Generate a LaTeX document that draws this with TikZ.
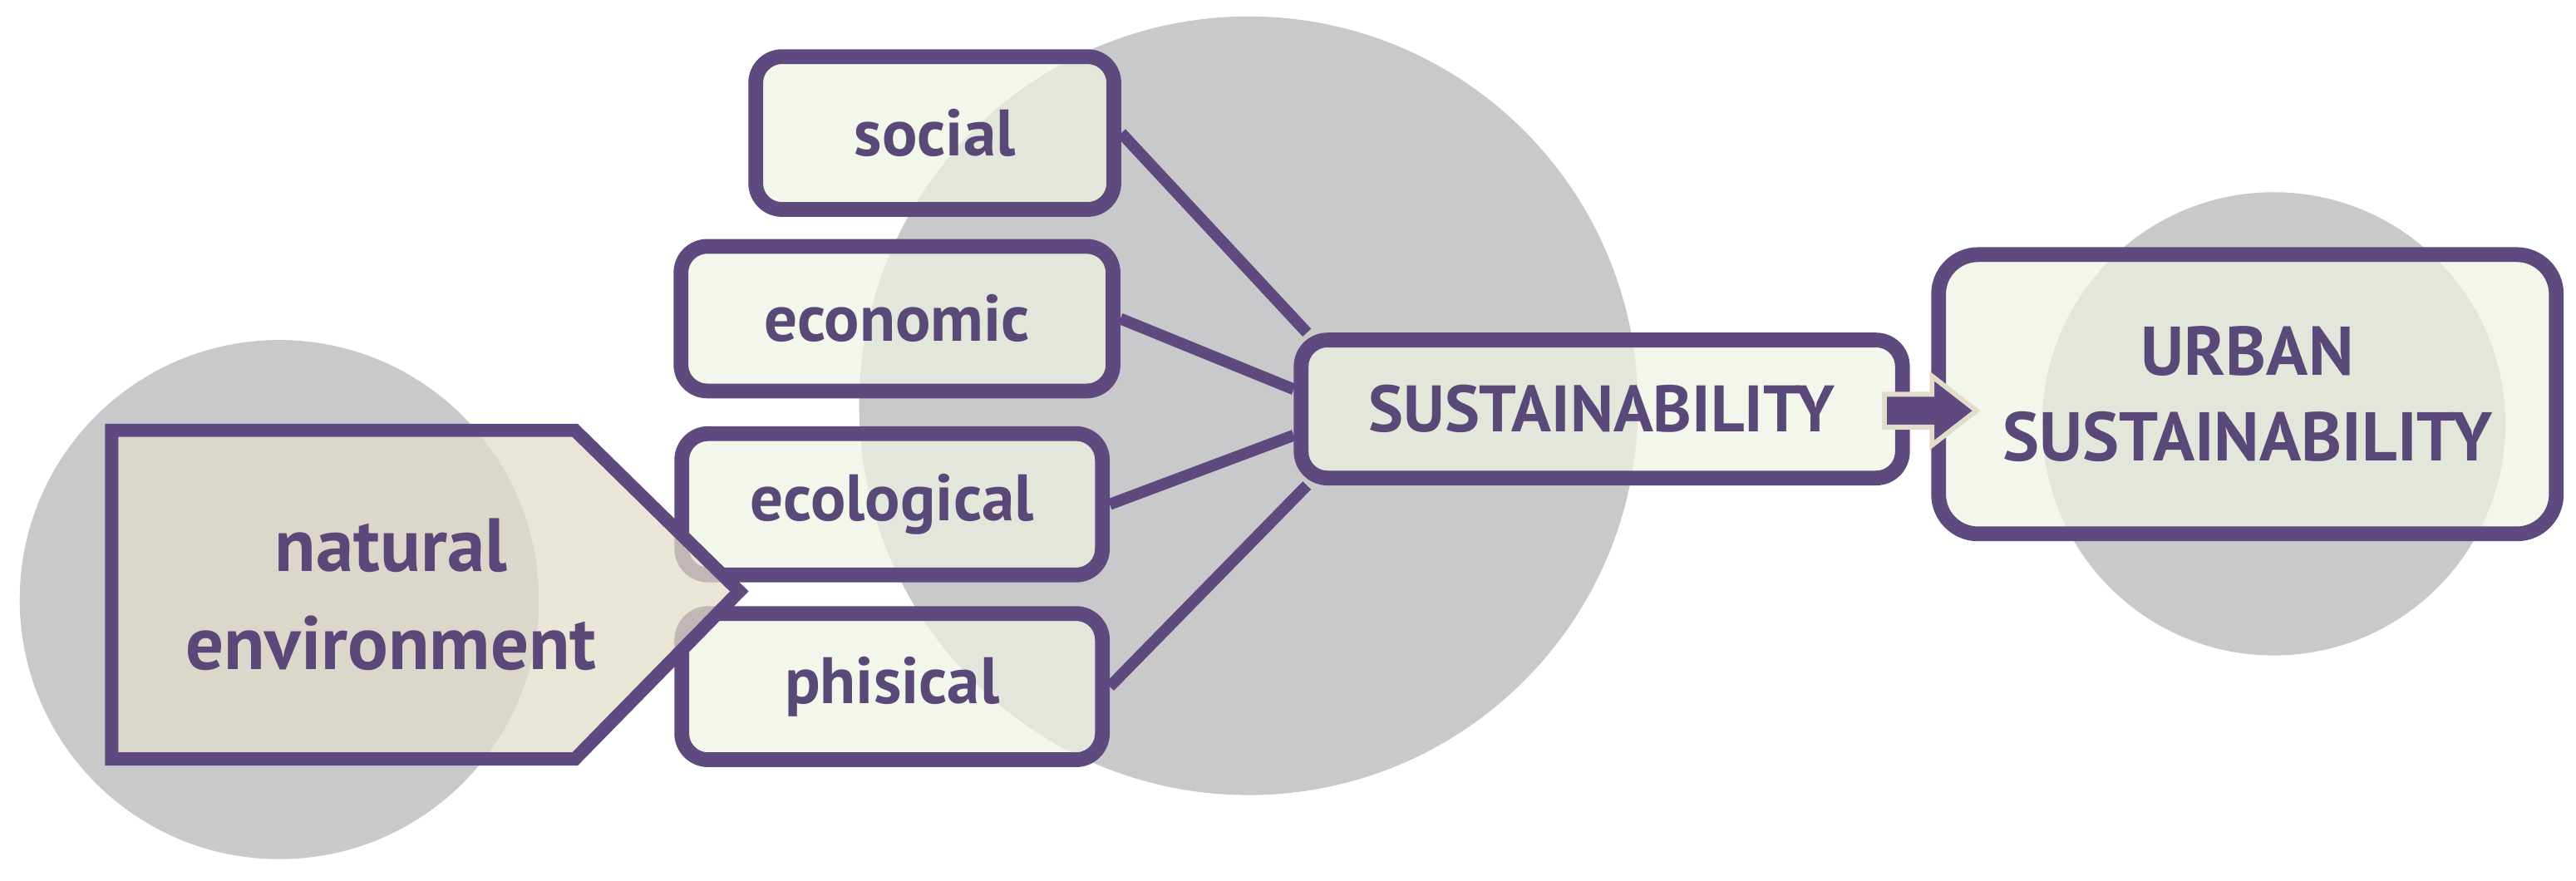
\documentclass[tikz,border=0pt]{standalone}
\usepackage{fontspec}
\setmainfont{PT Sans}
\definecolor{pur}{HTML}{5E4A7E}
\definecolor{txt}{HTML}{5A4878}
\definecolor{gry}{HTML}{C9C9CC}
\definecolor{bx}{HTML}{EEF2E2}
\definecolor{bg}{HTML}{E2DDCB}
\tikzset{
  circ/.style={fill=gry},
  box/.style={draw=pur,line width=9pt,fill=bx,fill opacity=0.72,text opacity=1,rounded corners=16pt,text=txt,font=\bfseries\fontsize{40}{48}\selectfont,align=center,inner sep=0pt},
  link/.style={draw=pur,line width=7pt}
}
\begin{document}
\begin{tikzpicture}[x=1pt,y=-1pt]
\useasboundingbox (0,0) rectangle (1568,536);
\fill[circ] (760,247) circle (237);
\fill[circ] (170,365) circle (158);
\fill[circ] (1384,258) circle (141);
\node[box,minimum width=218pt,minimum height=93pt] (soc) at (569,81) {social};
\node[box,minimum width=263pt,minimum height=88pt] (eco) at (546,194) {economic};
\node[box,minimum width=256pt,minimum height=86pt] (ecl) at (543,307) {ecological};
\node[box,minimum width=256pt,minimum height=89pt] (phi) at (543,418) {phisical};
\node[box,minimum width=366pt,minimum height=84pt] (sus) at (975,249) {SUSTAINABILITY};
\node[box,minimum width=376pt,minimum height=170pt,rounded corners=24pt,font=\bfseries\fontsize{42}{52}\selectfont] (urb) at (1368,240) {URBAN\\SUSTAINABILITY};
\draw[link] (soc.east) -- ([xshift=8pt]sus.north west);
\draw[link] (eco.east) -- ([yshift=12pt]sus.west);
\draw[link] (ecl.east) -- ([yshift=-16pt]sus.west);
\draw[link] (phi.east) -- ([xshift=8pt]sus.south west);
\draw[draw=bg,line width=3pt,fill=pur] (1147,240) -- (1176,240) -- (1176,229) -- (1203,250) -- (1176,271) -- (1176,260) -- (1147,260) -- cycle;
\draw[draw=pur,line width=8pt,fill=bg,fill opacity=0.75] (68,262) -- (350,262) -- (450,360) coordinate (tip) -- (350,462) -- (68,462) -- cycle;
\node[text=txt,font=\bfseries\fontsize{46}{60}\selectfont,align=center] (nat) at (238,362) {natural\\environment};
\end{tikzpicture}
\end{document}
